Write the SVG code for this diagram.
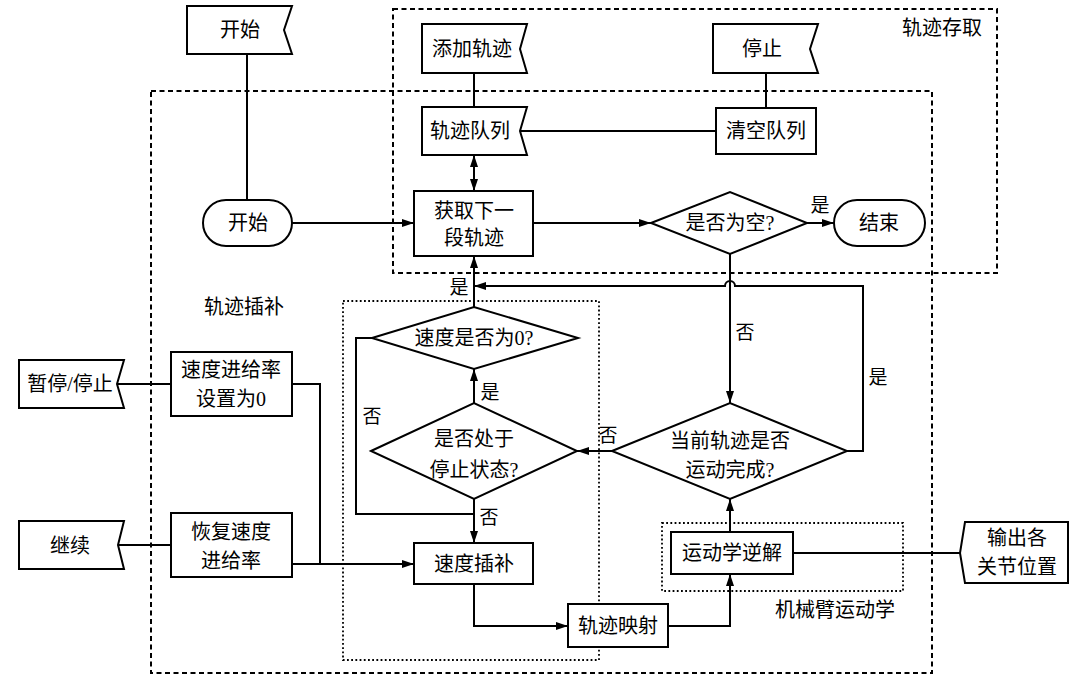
<svg xmlns="http://www.w3.org/2000/svg" width="1080" height="684" viewBox="0 0 1080 684">
<style>
  .shape{fill:#fff;stroke:#000;stroke-width:2}
  .ln{fill:none;stroke:#000;stroke-width:2}
  .dash{fill:none;stroke:#000;stroke-width:2;stroke-dasharray:5,3.5}
  .dot{fill:none;stroke:#000;stroke-width:1.8;stroke-dasharray:1.8,2.4}
  text{font-family:"Liberation Serif","Noto Sans CJK SC",serif;font-size:20px;fill:#000;text-anchor:middle;dominant-baseline:central}
  .lbl{font-size:19px}
  .grp{font-size:20px}
</style>
<defs>
  <marker id="ah" markerUnits="userSpaceOnUse" markerWidth="13" markerHeight="9" refX="12" refY="4" orient="auto-start-reverse">
    <path d="M0,0 L12,4 L0,8 z" fill="#000"/>
  </marker>
</defs>
<rect width="1080" height="684" fill="#fff"/>

<g id="groups">
  <rect class="dash" x="393" y="9" width="604" height="264"/>
  <rect class="dash" x="151" y="91" width="781" height="582"/>
  <rect class="dot" x="343" y="301" width="256" height="359"/>
  <rect class="dot" x="662" y="523" width="241" height="68"/>
  <text class="grp" x="942" y="28">轨迹存取</text>
  <text class="grp" x="244" y="307">轨迹插补</text>
  <text class="grp" x="835" y="610">机械臂运动学</text>
</g>

<g id="connectors">
  <path class="ln" d="M247,54 V200"/>
  <path class="ln" d="M474,73 V107"/>
  <path class="ln" d="M520,131 H716"/>
  <path class="ln" d="M766,73 V108"/>
  <path class="ln" d="M474,155 V191" marker-start="url(#ah)" marker-end="url(#ah)"/>
  <path class="ln" d="M292,223 H414" marker-end="url(#ah)"/>
  <path class="ln" d="M533,223 H651" marker-end="url(#ah)"/>
  <path class="ln" d="M807,223 H834" marker-end="url(#ah)"/>
  <path class="ln" d="M730,254 V403" marker-end="url(#ah)"/>
  <path class="ln" d="M847,451 H863 V286 H735 A5,5 0 0 0 725,286 H474" marker-end="url(#ah)"/>
  <path class="ln" d="M474,307 V256" marker-end="url(#ah)"/>
  <path class="ln" d="M474,403 V369" marker-end="url(#ah)"/>
  <path class="ln" d="M372,338 H356 V514 H474"/>
  <path class="ln" d="M474,499 V543" marker-end="url(#ah)"/>
  <path class="ln" d="M612,451 H577" marker-end="url(#ah)"/>
  <path class="ln" d="M117,384 H171"/>
  <path class="ln" d="M292,384 H320 V564"/>
  <path class="ln" d="M118,545 H171"/>
  <path class="ln" d="M292,564 H414" marker-end="url(#ah)"/>
  <path class="ln" d="M474,584 V626 H568" marker-end="url(#ah)"/>
  <path class="ln" d="M668,626 H730 V574" marker-end="url(#ah)"/>
  <path class="ln" d="M730,532 V499" marker-end="url(#ah)"/>
  <path class="ln" d="M793,553 H960"/>
  <text class="lbl" x="820" y="205">是</text>
  <text class="lbl" x="745" y="332">否</text>
  <text class="lbl" x="878" y="377">是</text>
  <text class="lbl" x="608" y="435">否</text>
  <text class="lbl" x="459" y="287">是</text>
  <text class="lbl" x="490" y="392">是</text>
  <text class="lbl" x="372" y="416">否</text>
  <text class="lbl" x="489" y="517">否</text>
</g>

<g id="n_start_flag">
  <polygon class="shape" points="187,6 292,6 284,30 292,54 187,54"/>
  <text x="240" y="30">开始</text>
</g>
<g id="n_add">
  <polygon class="shape" points="422,24 527,24 520,49 527,73 422,73"/>
  <text x="472" y="49">添加轨迹</text>
</g>
<g id="n_queue">
  <polygon class="shape" points="422,107 527,107 520,131 527,155 422,155"/>
  <text x="470" y="131">轨迹队列</text>
</g>
<g id="n_stop_flag">
  <polygon class="shape" points="713,24 818,24 810,49 818,73 713,73"/>
  <text x="762" y="49">停止</text>
</g>
<g id="n_clear">
  <rect class="shape" x="716" y="108" width="100" height="46"/>
  <text x="766" y="131">清空队列</text>
</g>
<g id="n_start">
  <rect class="shape" x="203" y="200" width="89" height="46" rx="23"/>
  <text x="248" y="223">开始</text>
</g>
<g id="n_fetch">
  <rect class="shape" x="414" y="191" width="119" height="65"/>
  <text x="474" y="211">获取下一</text>
  <text x="474" y="238">段轨迹</text>
</g>
<g id="n_empty">
  <polygon class="shape" points="651,223 730,192 807,223 730,254"/>
  <text x="730" y="223">是否为空?</text>
</g>
<g id="n_end">
  <rect class="shape" x="834" y="200" width="91" height="46" rx="23"/>
  <text x="879" y="223">结束</text>
</g>
<g id="n_pause">
  <polygon class="shape" points="19,360 124,360 117,384 124,408 19,408"/>
  <text x="70" y="384">暂停/停止</text>
</g>
<g id="n_feed0">
  <rect class="shape" x="171" y="352" width="121" height="64"/>
  <text x="231" y="370">速度进给率</text>
  <text x="231" y="399">设置为0</text>
</g>
<g id="n_continue">
  <polygon class="shape" points="19,521 124,521 118,545 124,569 19,569"/>
  <text x="70" y="546">继续</text>
</g>
<g id="n_restore">
  <rect class="shape" x="171" y="513" width="121" height="64"/>
  <text x="231" y="532">恢复速度</text>
  <text x="231" y="561">进给率</text>
</g>
<g id="n_speed0">
  <polygon class="shape" points="372,338 474,307 578,338 474,369"/>
  <text x="474" y="338">速度是否为0?</text>
</g>
<g id="n_stopped">
  <polygon class="shape" points="371,451 474,403 577,451 474,499"/>
  <text x="474" y="439">是否处于</text>
  <text x="474" y="470">停止状态?</text>
</g>
<g id="n_interp">
  <rect class="shape" x="414" y="543" width="119" height="41"/>
  <text x="474" y="564">速度插补</text>
</g>
<g id="n_map">
  <rect class="shape" x="568" y="604" width="100" height="43"/>
  <text x="618" y="626">轨迹映射</text>
</g>
<g id="n_done">
  <polygon class="shape" points="612,451 730,403 847,451 730,499"/>
  <text x="730" y="441">当前轨迹是否</text>
  <text x="730" y="470">运动完成?</text>
</g>
<g id="n_ik">
  <rect class="shape" x="671" y="532" width="122" height="42"/>
  <text x="732" y="553">运动学逆解</text>
</g>
<g id="n_output">
  <polygon class="shape" points="965,522 1068,522 1068,583 965,583 960,553"/>
  <text x="1017" y="538">输出各</text>
  <text x="1017" y="567">关节位置</text>
</g>
</svg>
